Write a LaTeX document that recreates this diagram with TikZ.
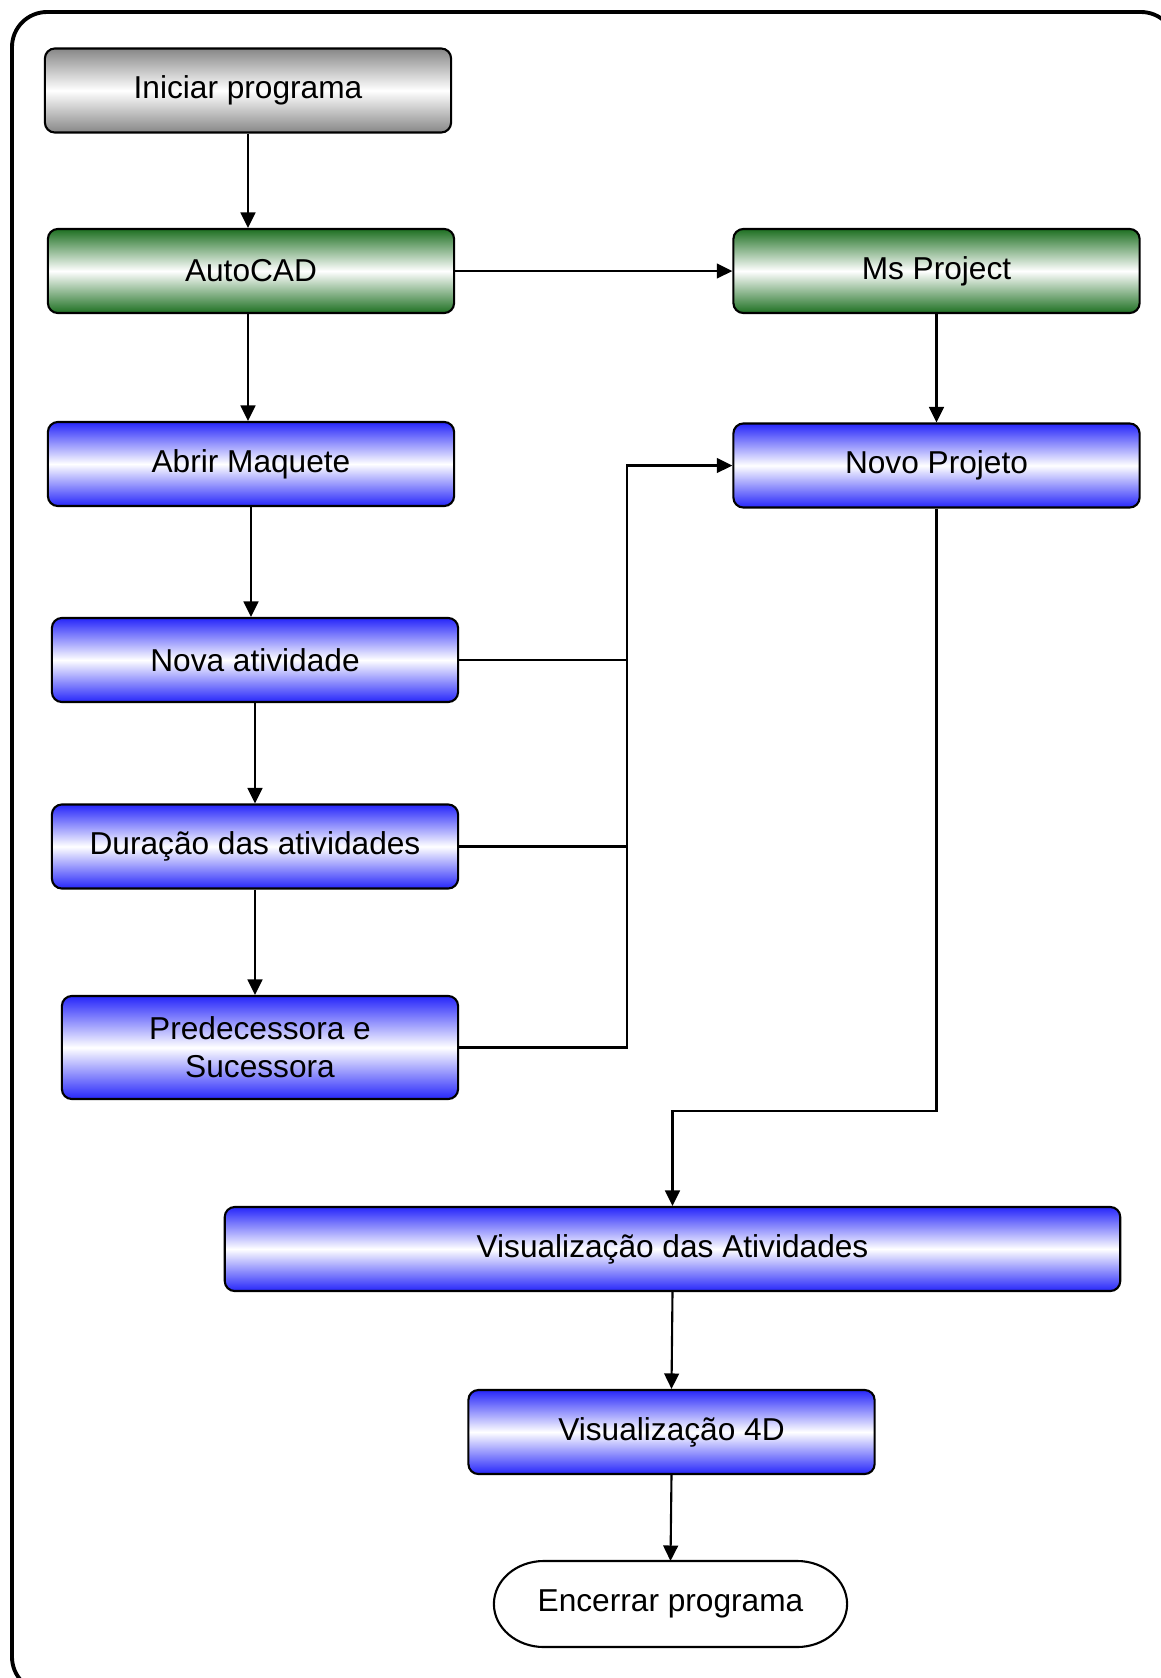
\documentclass[tikz,border=0pt]{standalone}
\usepackage{fontspec}
\setmainfont{Liberation Sans}
\usetikzlibrary{arrows.meta,calc}

\definecolor{cadgreen}{RGB}{30,112,34}
\definecolor{stepblue}{RGB}{38,38,250}
\definecolor{startgray}{RGB}{135,135,135}

\tikzset{
    box/.style={draw, line width=0.6pt, rounded corners=0.1cm, align=center,
        minimum width=4.06cm, minimum height=0.84cm, inner sep=2pt},
    graybox/.style={box, top color=startgray, bottom color=startgray, middle color=white},
    greenbox/.style={box, top color=cadgreen, bottom color=cadgreen, middle color=white},
    bluebox/.style={box, top color=stepblue, bottom color=stepblue, middle color=white},
    endbox/.style={minimum width=3.53cm, minimum height=0.86cm, inner sep=2pt, outer sep=0pt},
    arr/.style={line width=0.6pt, -{Triangle[length=4.4pt,width=4.2pt]}},
    link/.style={line width=0.6pt}
}

\begin{document}
\begin{tikzpicture}[x=0.01cm, y=-0.01cm, font=\fontsize{9}{10.8}\selectfont]
    \useasboundingbox (0,0) rectangle (1160,1678);

    % Outer frame
    \draw[line width=1.1pt, rounded corners=0.35cm] (12,12) rectangle (1176,1692);

    % Left column
    \node[graybox]  (ini)   at (248,90.5)  {Iniciar programa};
    \node[greenbox] (auto)  at (251,271)   {AutoCAD};
    \node[bluebox]  (abrir) at (251,464)   {Abrir Maquete};
    \node[bluebox]  (nova)  at (255,660)   {Nova atividade};
    \node[bluebox]  (dur)   at (255,846.5) {Duração das atividades};
    \node[bluebox, minimum width=3.96cm, minimum height=1.03cm]
                    (pred)  at (260,1047.5) {Predecessora e\\Sucessora};

    % Right column
    \node[greenbox] (ms)    at (936.5,271)   {Ms Project};
    \node[bluebox]  (novo)  at (936.5,465.5) {Novo Projeto};

    % Bottom part
    \node[bluebox, minimum width=8.95cm] (visat) at (672.5,1249) {Visualização das Atividades};
    \node[bluebox] (vis4d) at (671.5,1432) {Visualização 4D};
    \node[endbox]  (fim)   at (670.5,1604) {Encerrar programa};

    % terminal outline with elliptic ends
    \draw[link] ([xshift=0.5cm]fim.north west) -- ([xshift=-0.5cm]fim.north east)
        .. controls ([xshift=-0.224cm]fim.north east) and ([yshift=0.237cm]fim.east) .. (fim.east)
        .. controls ([yshift=-0.237cm]fim.east) and ([xshift=-0.224cm]fim.south east) .. ([xshift=-0.5cm]fim.south east)
        -- ([xshift=0.5cm]fim.south west)
        .. controls ([xshift=0.224cm]fim.south west) and ([yshift=-0.237cm]fim.west) .. (fim.west)
        .. controls ([yshift=0.237cm]fim.west) and ([xshift=0.224cm]fim.north west) .. ([xshift=0.5cm]fim.north west)
        -- cycle;

    % Connectors
    \coordinate (bus)  at (627,0);
    \coordinate (turn) at (0,1111);

    \draw[arr] (ini.south) -- (ini.south |- auto.north);
    \draw[arr] (ini.south |- auto.south) -- (ini.south |- abrir.north);
    \draw[arr] (abrir.south) -- (abrir.south |- nova.north);
    \draw[arr] (nova.south) -- (dur.north);
    \draw[arr] (dur.south) -- (dur.south |- pred.north);
    \draw[arr] (auto.east) -- (ms.west);
    \draw[arr] (ms.south) -- (novo.north);

    \draw[link] (nova.east) -- (nova.east -| bus);
    \draw[link] (dur.east) -- (dur.east -| bus);
    \draw[arr] (pred.east) -| (bus |- novo.west) -- (novo.west);

    \draw[arr] (novo.south) -- (novo.south |- turn) -| (visat.north);
    \draw[arr] (visat.south) -- (vis4d.north);
    \draw[arr] (vis4d.south) -- (fim.north);
\end{tikzpicture}
\end{document}
